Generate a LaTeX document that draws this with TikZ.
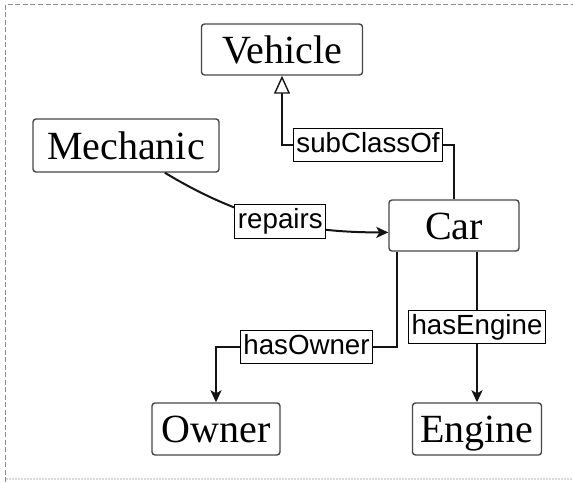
\documentclass[tikz,border=0pt]{standalone}
\usepackage{fontspec}
\setmainfont{Liberation Serif}
\newfontfamily\lblfont{Liberation Sans}
\usetikzlibrary{arrows.meta}
\begin{document}
\begin{tikzpicture}[x=1pt,y=-1pt,
  cls/.style={draw=black!72, line width=1.4pt, rounded corners=3pt, fill=white,
    font=\fontsize{40}{44}\selectfont, inner sep=0pt, text height=27pt, text depth=0pt},
  lbl/.style={draw=black, line width=1pt, fill=white,
    font=\lblfont\fontsize{27.7}{30}\selectfont, inner xsep=3pt, inner ysep=3pt,
    text height=21pt, text depth=6.5pt},
  edge/.style={line width=2pt, draw=black!92},
  tip/.style={-{Stealth[length=12pt,width=11pt,inset=3pt]}},
  inh/.style={-{Triangle[open,length=18pt,width=16pt,fill=white,line width=1.4pt]}}]
\useasboundingbox (0,0) rectangle (573,482);
% frame
\draw[black!45, line width=1pt, dash pattern=on 5pt off 2.5pt] (5.5,482) -- (5.5,4.5) -- (573,4.5);
\draw[black!15, line width=1.5pt, dash pattern=on 2pt off 1pt] (5.5,479) -- (573,479);
% classes
\node[cls, minimum width=161pt, minimum height=51pt] (veh) at (282,49.5) {Vehicle};
\node[cls, minimum width=186pt, minimum height=53pt] (mech) at (126,145.5) {Mechanic};
\node[cls, minimum width=130pt, minimum height=51pt] (car) at (454,225.5) {Car};
\node[cls, minimum width=128pt, minimum height=52pt] (own) at (216,429) {Owner};
\node[cls, minimum width=129pt, minimum height=52pt] (eng) at (477,429) {Engine};
% subClassOf
\coordinate (scm) at (368,145);
\draw[edge, inh] (car.north) |- (scm) -| (veh.south);
\node[lbl] (scl) at (scm) {subClassOf};
% repairs
\draw[edge, tip] (mech.-35.6) .. controls +(84,51) and +(-74,0) .. node[lbl] (rpl) {repairs} (car.-174.3);
% hasOwner
\coordinate (hom) at (306.5,347);
\draw[edge, tip] ([xshift=-57pt]car.south) |- (hom) -| (own.north);
\node[lbl] (hol) at (hom) {hasOwner};
% hasEngine
\draw[edge, tip] (eng.north |- car.south) -- node[lbl] (hel) {hasEngine} (eng.north);
\end{tikzpicture}
\end{document}
